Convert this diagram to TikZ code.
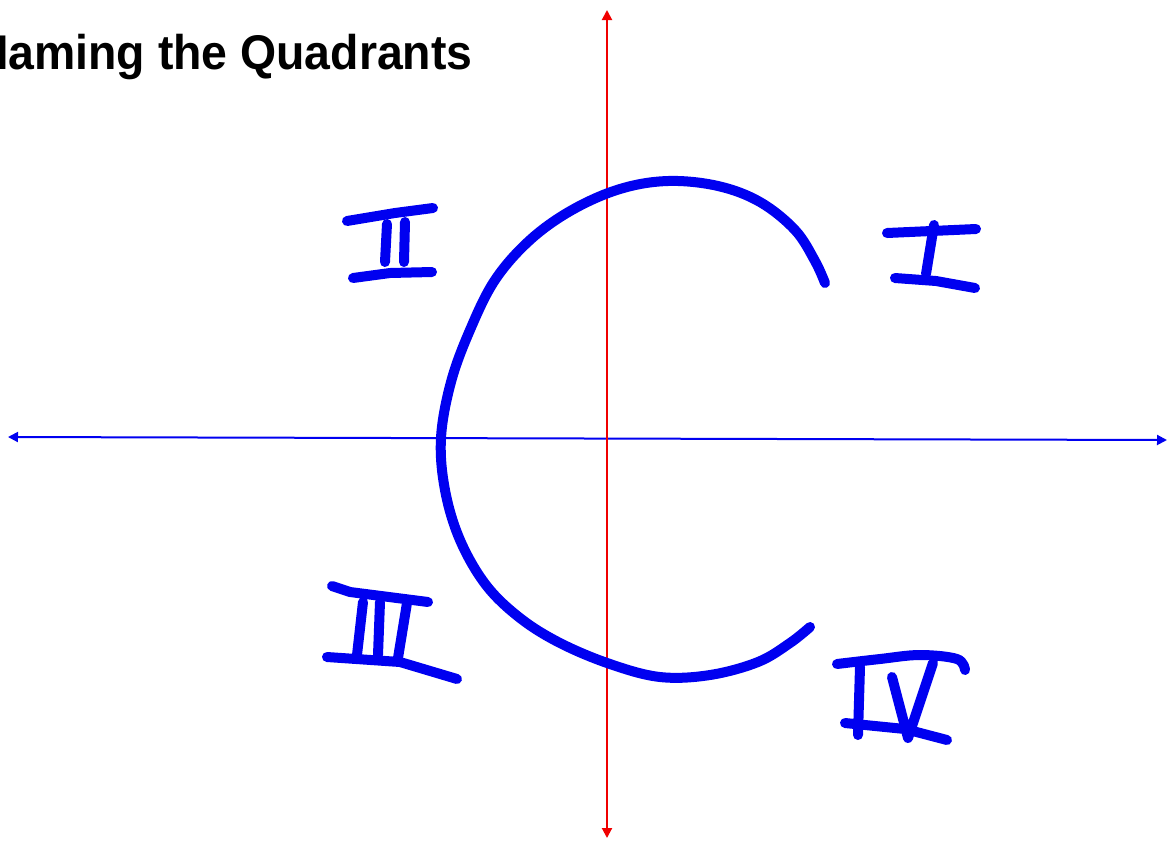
\documentclass[tikz,border=0pt]{standalone}
\usepackage{fontspec}
\setmainfont{Liberation Sans}
\usetikzlibrary{arrows.meta}
\definecolor{qdBlue}{HTML}{0000F0}
\definecolor{qdRed}{HTML}{F00000}
\tikzset{
  axisx/.style  = {{Triangle[length=5pt,width=5pt]}-{Triangle[length=5pt,width=5pt]}, line width=1pt, qdBlue},
  axisy/.style  = {{Triangle[length=5pt,width=5pt]}-{Triangle[length=5pt,width=5pt]}, line width=1pt, qdRed},
  pen/.style    = {qdBlue, line width=5pt, line cap=round, line join=round},
  titlelbl/.style = {font=\fontsize{23.2}{28}\selectfont\bfseries, inner sep=0pt},
}
\begin{document}
\begin{tikzpicture}[x=0.5pt,y=-0.5pt]
  \useasboundingbox (0,0) rectangle (1169,842);
  \node[titlelbl, anchor=base east] (title) at (473,69) {\scalebox{1}[1.05]{Naming the Quadrants}};
  % axes
  \coordinate (xl) at (8,437);
  \coordinate (xr) at (1167,440);
  \coordinate (yt) at (607,10);
  \coordinate (yb) at (607,838);
  \draw[axisx] (xl) -- (xr);
  \draw[axisy] (yb) -- (yt);
  % the hand drawn C
  \draw[pen] plot[smooth, tension=0.6] coordinates {(825,283) (815,261) (795,230) (760,202)
    (718,186) (668,181) (620,189) (572,210) (530,240) (495,280) (470,330) (451,382)
    (441,438) (445,490) (460,540) (486,585) (520,618) (560,643) (610,664) (660,677)
    (710,675) (758,662) (790,643) (810,627)};
  % numeral I
  \draw[pen] (887,233) -- (976,229);
  \draw[pen] (934,225) -- (926,274);
  \draw[pen] (895,278) -- (936,281) -- (975,288);
  % numeral II
  \draw[pen] (347,221) -- (395,213) -- (433,208);
  \draw[pen] (387,224) -- (385,262);
  \draw[pen] (405,222) -- (404,262);
  \draw[pen] (353,278) -- (390,273) -- (432,272);
  % numeral III
  \draw[pen] (332,586) -- (350,592) -- (428,602);
  \draw[pen] (363,602) -- (357,655);
  \draw[pen] (380,602) -- (378,655);
  \draw[pen] (407,603) -- (398,658);
  \draw[pen] (327,657) -- (400,662) -- (457,679);
  % numeral IV
  \draw[pen] plot[smooth, tension=0.6] coordinates {(837,664) (880,659) (920,655) (957,659) (965,670)};
  \draw[pen] (860,667) -- (858,735);
  \draw[pen] (892,677) -- (908,738) -- (933,663);
  \draw[pen] (845,723) -- (905,729) -- (947,740);
\end{tikzpicture}
\end{document}
